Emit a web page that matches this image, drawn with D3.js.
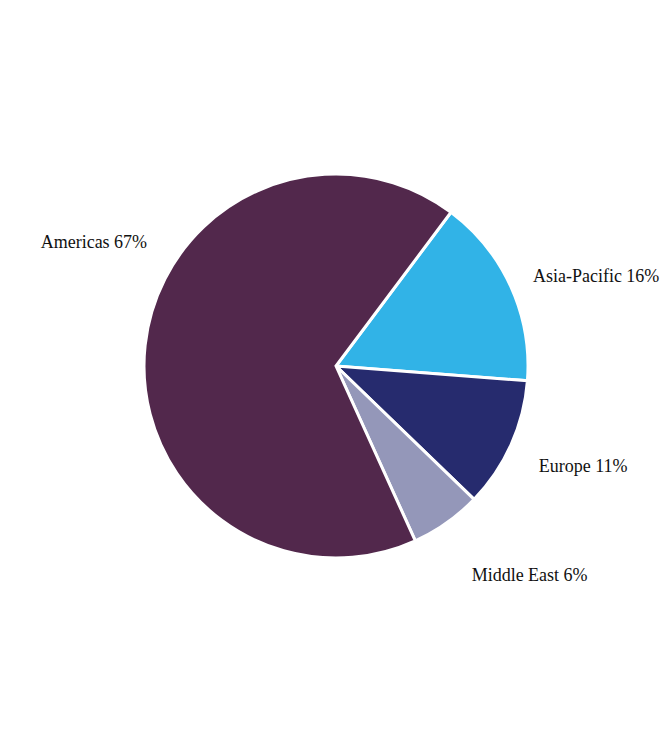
<!DOCTYPE html>
<html>
<head>
<meta charset="utf-8">
<script src="https://cdn.jsdelivr.net/npm/d3@7"></script>
<style>
  html, body { margin: 0; padding: 0; background: #ffffff; }
  svg { display: block; }
</style>
</head>
<body>
<svg id="chart" width="670" height="732"></svg>
<script>
// ---- data ----
const regions = ["Asia-Pacific", "Europe", "Middle East", "Americas"];
const shares = [16, 11, 6, 67];
const colors = ["#31b3e7", "#262b6e", "#9497b9", "#52284c"];

// ---- layout ----
const W = 670, H = 732;
const cx = 336, cy = 366, R = 192;
const startDeg = 36.8;
// label placement: angle (deg, clockwise from north) and radius factor
const labelLayout = {
  "Asia-Pacific": { deg: 65.4, rf: 1.128, anchor: "start" },
  "Europe": { deg: 116.2, rf: 1.177, anchor: "start" },
  "Middle East": { deg: 147, rf: 1.297, anchor: "start" },
  "Americas": { deg: 303.3, rf: 1.177, anchor: "end" }
};

const svg = d3.select("#chart");
const g = svg.append("g").attr("transform", `translate(${cx},${cy})`);

const data = regions.map((r, i) => ({ region: r, value: shares[i], color: colors[i] }));

const pie = d3.pie()
  .value(d => d.value)
  .sort(null)
  .startAngle(startDeg * Math.PI / 180)
  .endAngle((startDeg + 360) * Math.PI / 180);

const arc = d3.arc().innerRadius(0).outerRadius(R);

g.selectAll("path.slice")
  .data(pie(data))
  .join("path")
  .attr("class", "slice")
  .attr("d", arc)
  .attr("fill", d => d.data.color)
  .attr("stroke", "#ffffff")
  .attr("stroke-width", 3)
  .attr("stroke-linejoin", "miter");

g.selectAll("text.label")
  .data(pie(data))
  .join("text")
  .attr("class", "label")
  .each(function (d) {
    const L = labelLayout[d.data.region];
    const a = L.deg * Math.PI / 180;
    const rr = R * L.rf;
    d3.select(this)
      .attr("x", rr * Math.sin(a))
      .attr("y", -rr * Math.cos(a))
      .attr("text-anchor", L.anchor)
      .attr("dy", "0.35em");
  })
  .attr("font-family", "'Liberation Serif', 'Times New Roman', serif")
  .attr("font-size", 18)
  .attr("fill", "#111111")
  .text(d => `${d.data.region} ${d.data.value}%`);
</script>
</body>
</html>
